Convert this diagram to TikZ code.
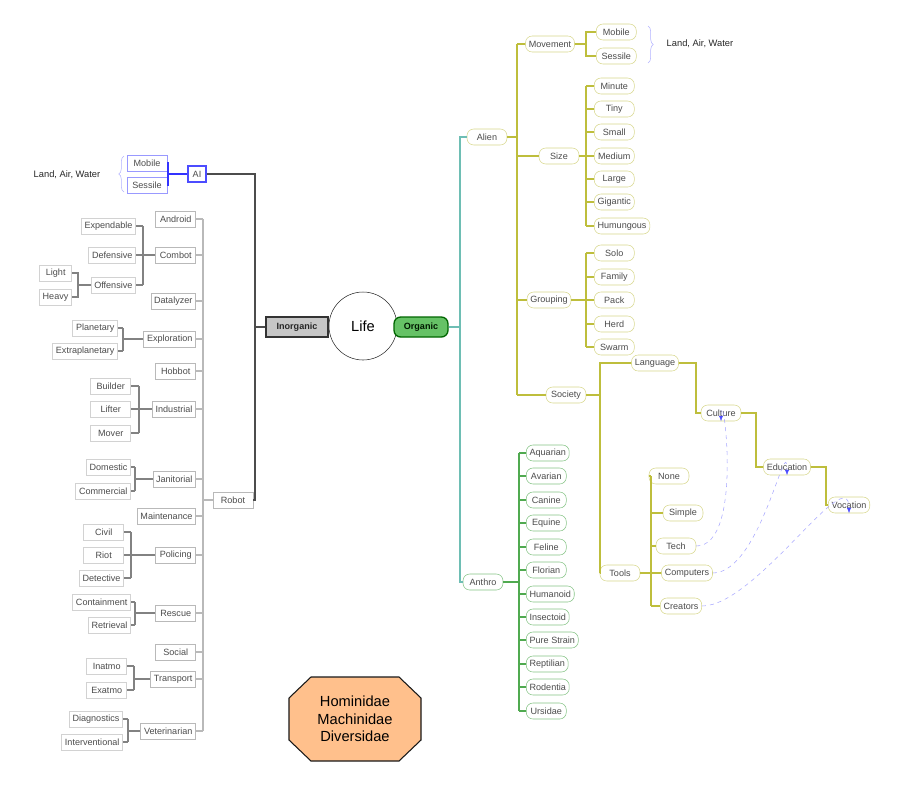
\documentclass[tikz,border=0pt]{standalone}
\usepackage{fontspec}
\setmainfont{Liberation Sans}
\usetikzlibrary{decorations.pathreplacing,arrows.meta}
\definecolor{olv}{RGB}{190,190,60}
\definecolor{olvb}{RGB}{215,215,140}
\definecolor{grn}{RGB}{80,170,80}
\definecolor{teal1}{RGB}{110,190,180}
\definecolor{peach}{RGB}{255,192,140}
\tikzset{
  box/.style={draw=gray!55,fill=white,text=gray!60!black,font=\fontsize{6.8}{8}\selectfont,inner sep=2.5pt,minimum height=16*0.75pt,minimum width=40*0.75pt},
  lbox/.style={box,draw=gray!35},
  pill/.style={box,rounded corners=5pt,draw=olvb},
  gpill/.style={box,rounded corners=5pt,draw=grn!70},
  bline/.style={draw=gray!60!black,line width=0.8pt},
  gline/.style={draw=gray!55,line width=0.8pt},
  oline/.style={draw=olv,line width=0.8pt},
  xref/.style={draw=blue!35,dashed,-{Latex[length=4pt,width=3pt,color=blue!70]}}
}
\begin{document}
\begin{tikzpicture}[x=0.75pt,y=0.75pt,yscale=-1]
\useasboundingbox (0,0) rectangle (900,794);
% centre
\node[draw=gray!30!black,circle,minimum size=68*0.75pt,font=\fontsize{11}{13}\selectfont,inner sep=0pt] (life) at (363,326) {Life};
\node[draw=gray!40!black,fill=gray!45,line width=1pt,font=\bfseries\fontsize{6.8}{8}\selectfont,text=gray!30!black,minimum width=62*0.75pt,minimum height=20*0.75pt] (inorg) at (297,327) {Inorganic};
\node[draw=green!40!black,fill=green!60!black!60,line width=1pt,rounded corners=5pt,font=\bfseries\fontsize{6.8}{8}\selectfont,text=green!10!black,minimum width=54*0.75pt,minimum height=20*0.75pt] (org) at (421,327) {Organic};
% inorganic side
\coordinate (it) at (255,0);
\node[box,draw=blue!70,line width=0.8pt,minimum width=18*0.75pt] (ai) at (197,174) {AI};
\node[box] (robot) at (233,500) {Robot};
\draw[bline] (inorg.west) -- (inorg.west -| it);
\draw[bline] (ai.east) -- (it |- ai) -- (it |- robot) -- (robot.east);
\node[box,draw=blue!40] (aimob) at (147,163) {Mobile};
\node[box,draw=blue!40] (aises) at (147,185) {Sessile};
\coordinate (ab) at (168,0);
\draw[draw=blue!80,line width=0.8pt] (aimob.east) -| (ab |- aises) -- (aises.east) (ab |- ai) -- (ai.west);
\draw[draw=blue!30,decorate,decoration={brace,amplitude=4pt}] (124,192) -- (124,156);
\node[text=gray!30!black,font=\fontsize{7}{8}\selectfont] (law1) at (67,175) {Land, Air, Water};
% robot kinds
\coordinate (rt) at (203,0);
\foreach \nm/\txt/\yy in {android/Android/219,combot/Combot/255,datal/Datalyzer/301,explo/Exploration/339,hobbot/Hobbot/371,indus/Industrial/409,jan/Janitorial/479,maint/Maintenance/516,polic/Policing/555,rescue/Rescue/613,social/Social/652,transp/Transport/679,vet/Veterinarian/731}
  {\node[box,anchor=east] (\nm) at (196,\yy) {\txt};
   \draw[gline] (\nm.east) -- (\nm.east -| rt);}
\draw[gline] (rt |- android) -- (rt |- vet);
\draw[gline] (robot.west) -- (robot.west -| rt);
% leaves
\foreach \pn/\bx/\list in {combot/143/{exp/Expendable/226/136,def/Defensive/255/136,off/Offensive/285/136},
    explo/123/{plan/Planetary/328/118,extra/Extraplanetary/351/118},
    indus/139/{build/Builder/386/131,lift/Lifter/409/131,mover/Mover/433/131},
    jan/135/{dom/Domestic/467/131,comm/Commercial/491/131},
    polic/131/{civil/Civil/532/124,riot/Riot/555/124,det/Detective/578/124},
    rescue/135/{cont/Containment/602/131,retr/Retrieval/625/131},
    transp/134/{inat/Inatmo/666/127,exat/Exatmo/690/127},
    vet/128/{diag/Diagnostics/719/123,interv/Interventional/742/123}}
  {\coordinate (bb) at (\bx,0);
   \foreach \nm/\txt/\yy/\ex in \list
     {\node[lbox,anchor=east] (\nm) at (\ex,\yy) {\txt};
      \draw[gline,draw=gray!60!black!70] (\nm.east) -- (\nm.east -| bb);}
   \draw[gline,draw=gray!60!black!70] (\pn.west) -- (\pn.west -| bb);}
\coordinate (cb) at (143,0);
\draw[gline,draw=gray!60!black!70] (cb |- exp) -- (cb |- off);
\draw[gline,draw=gray!60!black!70] (123,328) -- (123,351) (139,386) -- (139,433) (135,467) -- (135,491)
  (131,532) -- (131,578) (135,602) -- (135,625) (134,666) -- (134,690) (128,719) -- (128,742);
\node[lbox,anchor=east,minimum width=32*0.75pt] (light) at (72,273) {Light};
\node[lbox,anchor=east,minimum width=32*0.75pt] (heavy) at (72,297) {Heavy};
\draw[gline,draw=gray!60!black!70] (light.east) -| (78,297) -- (heavy.east) (78,285) -- (off.west);
% hexagon
\draw[draw=gray!20!black,fill=peach,line width=0.8pt] (311,677) -- (399,677) -- (421,698) -- (421,740) -- (399,761) -- (311,761) -- (289,740) -- (289,698) -- cycle;
\node[font=\fontsize{11}{13}\selectfont,align=center,text=black] (fam) at (355,719) {Hominidae\\Machinidae\\Diversidae};
% organic side
\coordinate (ot) at (460,0);
\node[pill] (alien) at (487,137) {Alien};
\node[gpill] (anthro) at (483,582) {Anthro};
\draw[draw=teal1,line width=0.8pt] (org.east) -- (org.east -| ot) (alien.west) -- (ot |- alien) -- (ot |- anthro) -- (anthro.west);
\coordinate (at) at (517,0);
\coordinate (gt) at (586,0);
\node[pill] (move) at (550,44) {Movement};
\node[pill] (size) at (559,156) {Size};
\node[pill] (group) at (549,300) {Grouping};
\node[pill] (soc) at (566,395) {Society};
\draw[oline] (alien.east) -- (alien.east -| at) (at |- move) -- (at |- soc);
\foreach \nm in {move,size,group,soc} {\draw[oline] (\nm.west) -- (\nm.west -| at);}
\node[pill,anchor=west] (mmob) at (596,32) {Mobile};
\node[pill,anchor=west] (mses) at (596,56) {Sessile};
\draw[oline] (move.east) -- (586,44) (mmob.west) -| (586,56) -- (mses.west);
\draw[draw=blue!30,decorate,decoration={brace,amplitude=4pt}] (648,26) -- (648,63);
\node[text=gray!30!black,font=\fontsize{7}{8}\selectfont] (law2) at (700,44) {Land, Air, Water};
\foreach \pn/\list in {size/{Minute/86,Tiny/109,Small/132,Medium/156,Large/179,Gigantic/202,Humungous/226},
    group/{Solo/253,Family/277,Pack/300,Herd/324,Swarm/347}}
  {\foreach \txt/\yy in \list
     {\node[pill,anchor=west] (\txt) at (594,\yy) {\txt};
      \draw[oline] (\txt.west) -- (586,\yy);}
   \draw[oline] (\pn.east) -- (\pn.east -| gt);}
\draw[oline] (586,86) -- (586,226) (586,253) -- (586,347);
% society
\node[pill] (lang) at (655,363) {Language};
\node[pill] (tools) at (620,573) {Tools};
\draw[oline] (soc.east) -- (600,395) (lang.west) -| (600,573) -- (tools.west);
\node[pill] (cult) at (721,413) {Culture};
\node[pill] (edu) at (787,467) {Education};
\node[pill] (voc) at (849,505) {Vocation};
\draw[oline] (lang.east) -| (696,413) -- (cult.west);
\draw[oline] (cult.east) -| (756,467) -- (edu.west);
\draw[oline] (edu.east) -| (826,505) -- (voc.west);
\foreach \nm/\txt/\yy/\xx in {none/None/476/669,simple/Simple/513/683,tech/Tech/546/676,comp/Computers/573/687,creat/Creators/606/681}
  {\node[pill] (\nm) at (\xx,\yy) {\txt};
   \draw[oline] (\nm.west) -- (651,\yy);}
\draw[oline] (651,476) -- (651,606) (tools.east) -- (651,573);
\draw[xref] (tech.east) to[out=0,in=-90] (cult.south);
\draw[xref] (comp.east) to[out=0,in=-90] (edu.south);
\draw[xref] (creat.east) to[out=0,in=-90,looseness=0.8] (voc.south);
% anthro kinds
\foreach \txt/\yy in {Aquarian/453,Avarian/476,Canine/500,Equine/523,Feline/547,Florian/570,Humanoid/594,Insectoid/617,Pure Strain/640,Reptilian/664,Rodentia/687,Ursidae/711}
  {\node[gpill,anchor=west] (\txt) at (526,\yy) {\txt};
   \draw[draw=grn,line width=0.8pt] (\txt.west) -- (519,\yy);}
\draw[draw=grn,line width=0.8pt] (519,453) -- (519,711) (anthro.east) -- (519,582);
\end{tikzpicture}
\end{document}
